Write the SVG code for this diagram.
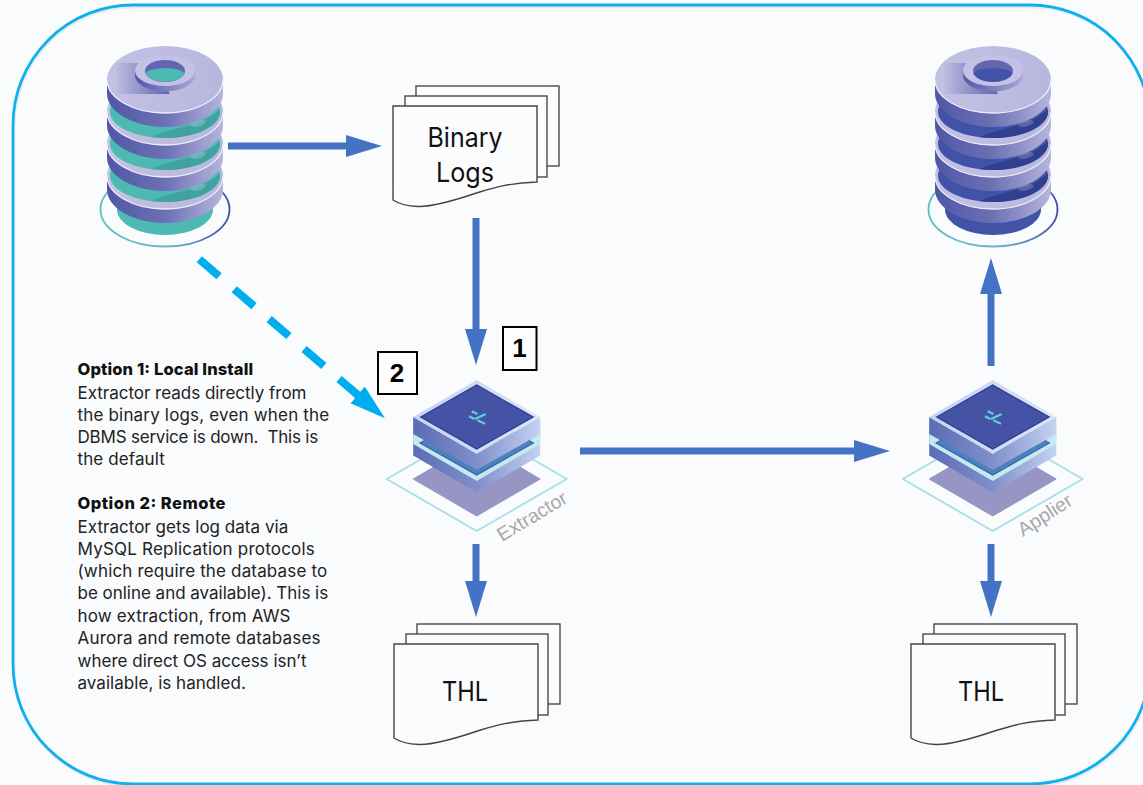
<svg xmlns="http://www.w3.org/2000/svg" width="1143" height="785" viewBox="0 0 1143 785">
<style>
.doc{fill:#fbfcfe;stroke:#4a4a4a;stroke-width:1.4}
.docfront{fill:#fbfcfe;stroke:#444;stroke-width:1.4}
.doctxt{font-family:"Inter","Noto Sans",sans-serif;font-size:27px;fill:#111;text-anchor:middle}
.note{font-family:"Inter","Noto Sans",sans-serif;font-size:17px;fill:#222}
.noteh{font-family:"Inter","Noto Sans",sans-serif;font-size:16.5px;font-weight:800;fill:#111}
.num{font-family:"Liberation Sans",Arial,sans-serif;font-size:26px;font-weight:700;fill:#000;text-anchor:middle}
.box{fill:#fdfdfe;stroke:#000;stroke-width:2}
.plat{font-family:"Liberation Sans",Arial,sans-serif;font-size:19.5px;fill:#a8a8a8}
.flow{stroke:#4472c4;stroke-width:7;fill:none}
.dash{stroke:#00aeef;stroke-width:8;fill:none;stroke-dasharray:26 20}
</style>
<defs>
<marker id="ah" markerUnits="userSpaceOnUse" markerWidth="38" markerHeight="24" refX="10" refY="11" orient="auto"><path d="M0,0 L36,11 L0,22 Z" fill="#4472c4"/></marker>
<marker id="ahd" markerUnits="userSpaceOnUse" markerWidth="38" markerHeight="24" refX="10" refY="11" orient="auto"><path d="M0,0 L36,11 L0,22 Z" fill="#00aeef"/></marker>
<linearGradient id="side"><stop offset="0" stop-color="#4f57a6"/><stop offset=".5" stop-color="#6e70b6"/><stop offset="1" stop-color="#b6b5dd"/></linearGradient>
<linearGradient id="topf"><stop offset="0" stop-color="#c3c2e4"/><stop offset="1" stop-color="#b7b6dd"/></linearGradient>
<linearGradient id="shade"><stop offset="0" stop-color="#bdbce0"/><stop offset="1" stop-color="#5f62ad"/></linearGradient>
<linearGradient id="ringside"><stop offset="0" stop-color="#5458a8"/><stop offset="1" stop-color="#a8a7d6"/></linearGradient>
<linearGradient id="ringstroke"><stop offset="0" stop-color="#58c0c0"/><stop offset=".55" stop-color="#6ab4cc"/><stop offset="1" stop-color="#3f4fa3"/></linearGradient>
<linearGradient id="blockside"><stop offset="0" stop-color="#5b6cb6"/><stop offset=".5" stop-color="#7f8fcb"/><stop offset="1" stop-color="#c4d3f0"/></linearGradient>
<linearGradient id="blocktop"><stop offset="0" stop-color="#c6d2f0"/><stop offset="1" stop-color="#dbe6f7"/></linearGradient>
<g id="disc">
<path d="M-58,0 V14 A58,33.5 0 0 0 58,14 V0 Z" fill="url(#side)"/>
<ellipse cx="0" cy="0" rx="58" ry="33.5" fill="url(#topf)"/>
<path d="M-58,0 A58,33.5 0 0 0 58,0" fill="none" stroke="#eeeef9" stroke-width="1.3"/>
</g>
<g id="seg">
<ellipse cx="0" cy="0" rx="55" ry="26.500" style="fill:var(--inner)"/>
<path d="M-14,25.600 C10,15 35,16 55,-2 A55,26.500 0 0 1 -14,25.600 Z" style="fill:var(--dark)"/>
<ellipse cx="33" cy="12" rx="8" ry="3" transform="rotate(-15 33 12)" fill="#fff" opacity=".2"/>
</g>
<g id="stack">
<ellipse cx="0" cy="130" rx="64.500" ry="37" fill="none" stroke="url(#ringstroke)" stroke-width="1.800"/>
<path d="M-48,125 V130 A48,25.500 0 0 0 48,130 V125 Z" style="fill:var(--inner)"/>
<use href="#disc" y="96"/>
<use href="#seg" y="96"/>
<use href="#disc" y="64"/>
<use href="#seg" y="64"/>
<use href="#disc" y="32"/>
<use href="#seg" y="32"/>
<use href="#disc"/>
<path d="M-49,-16.500 H-12 L5,14.500 H-49 Z" fill="url(#shade)"/>
<path d="M-30,-9 V-4 A30,16 0 0 0 30,-4 V-9 Z" fill="url(#ringside)"/>
<ellipse cx="0" cy="-9" rx="30" ry="15.500" fill="#c3c2e6"/>
<ellipse cx="0" cy="-8.500" rx="20" ry="11" fill="#6265b0"/>
<path d="M-19.500,-6 A20,10.500 0 0 0 19.500,-6 A20,7 0 0 0 -19.500,-6 Z" style="fill:var(--inner)"/>
</g>
<g id="platform">
<path d="M-90,62 L0,10 L90,62 L0,114 Z" fill="none" stroke="#a6dfe6" stroke-width="1.800" stroke-linejoin="round"/>
<path d="M-63.500,62 L0,25 L63.500,62 L0,99 Z" fill="#9695c4" stroke="#9695c4" stroke-width="1" stroke-linejoin="round"/>
<path d="M-63.500,10 L0,-27 L63.500,10 V38.500 L0,75.500 L-63.500,38.500 Z" fill="url(#blockside)"/>
<path d="M-63.500,5 H63.500 V27 L0,64 L-63.500,27 Z" fill="#c4e9ef"/>
<path d="M-56.700,26 L0,-6 L56.700,26 L0,58 Z" fill="#4b82be" stroke="#3f60ae" stroke-width="1.200"/>
<path d="M-63.500,0 L0,37 L63.500,0 V17 L0,53 L-63.500,17 Z" fill="url(#blockside)"/>
<path d="M-63.500,0 L0,-37 L63.500,0 L0,37 Z" fill="url(#blocktop)"/>
<path d="M-56,0 L0,-32 L56.500,0 L0,32 Z" fill="#4453a5" stroke="#2d3a92" stroke-width="1.200"/>
<path d="M-5,-5.700 L.7,-3 M-7.700,-.7 L-2.300,2 M-1.700,2 L9,-3 M.7,3.300 L8.300,6.700" fill="none" stroke="#63cdd8" stroke-width="2.200"/>
</g>
<g id="pages3">
<rect class="doc" x="23" y="-20" width="143" height="80"/>
<rect class="doc" x="12" y="-10" width="142" height="81"/>
<path class="docfront" d="M0,0 H144 V76 C115,77 100,82 85,86.500 C60,95 40,101 25,100.500 C15,100 6,98 0,94 Z"/>
</g>
</defs>
<rect width="1143" height="785" fill="#f9fbfd"/>
<g id="frame">
<rect x="14" y="7" width="1137" height="779" rx="120" fill="none" stroke="#000" stroke-opacity=".06" stroke-width="3"/>
<rect x="13" y="5" width="1137" height="779" rx="120" fill="none" stroke="#0fb0ee" stroke-width="2.800"/>
</g>
<g id="connectors">
<path class="flow" d="M228,146 H356" marker-end="url(#ah)"/>
<path class="flow" d="M476,218 V339" marker-end="url(#ah)"/>
<path class="flow" d="M476,544 V591" marker-end="url(#ah)"/>
<path class="flow" d="M580,451 H864" marker-end="url(#ah)"/>
<path class="flow" d="M991,366 V284" marker-end="url(#ah)"/>
<path class="flow" d="M991,544 V591" marker-end="url(#ah)"/>
<path class="dash" d="M199.300,259.300 L365.200,401.400" marker-end="url(#ahd)"/>
</g>
<g id="source-db" style="--inner:#4cb9b3;--dark:#41a39f"><use href="#stack" x="165" y="79.500"/></g>
<g id="target-db" style="--inner:#4252a6;--dark:#323f8e"><use href="#stack" x="993" y="79.500"/></g>
<g id="binary-logs"><use href="#pages3" x="393" y="106"/>
<text class="doctxt" x="465" y="147" textLength="75" lengthAdjust="spacingAndGlyphs">Binary</text>
<text class="doctxt" x="465" y="182" textLength="58" lengthAdjust="spacingAndGlyphs">Logs</text></g>
<g id="thl-1"><use href="#pages3" x="394" y="644"/>
<text class="doctxt" x="465" y="701" textLength="46" lengthAdjust="spacingAndGlyphs">THL</text></g>
<g id="thl-2"><use href="#pages3" x="911" y="644"/>
<text class="doctxt" x="981" y="701" textLength="46" lengthAdjust="spacingAndGlyphs">THL</text></g>
<g id="extractor"><use href="#platform" x="476.700" y="417"/>
<text class="plat" transform="translate(502 542) rotate(-31)">Extractor</text></g>
<g id="applier"><use href="#platform" x="992.700" y="417"/>
<text class="plat" transform="translate(1023 537) rotate(-33)">Applier</text></g>
<g id="label-1"><rect class="box" x="503" y="327" width="33.500" height="43"/><text class="num" x="519.500" y="357">1</text></g>
<g id="label-2"><rect class="box" x="378" y="352" width="39" height="42"/><text class="num" x="397" y="382">2</text></g>
<g id="notes">
<text class="noteh" x="77.500" y="375" textLength="175.700">Option 1: Local Install</text>
<text class="note" x="77.500" y="399" textLength="229">Extractor reads directly from</text>
<text class="note" x="77.500" y="421" textLength="251.700">the binary logs, even when the</text>
<text class="note" x="77.500" y="443" textLength="240.700" xml:space="preserve">DBMS service is down.  This is</text>
<text class="note" x="77.500" y="465" textLength="87.300">the default</text>
<text class="noteh" x="77.500" y="509" textLength="148">Option 2: Remote</text>
<text class="note" x="77.500" y="533" textLength="210.700">Extractor gets log data via</text>
<text class="note" x="77.500" y="555" textLength="237.300">MySQL Replication protocols</text>
<text class="note" x="77.500" y="577" textLength="249.700">(which require the database to</text>
<text class="note" x="77.500" y="599" textLength="250.700">be online and available). This is</text>
<text class="note" x="77.500" y="622" textLength="213">how extraction, from AWS</text>
<text class="note" x="77.500" y="644" textLength="243">Aurora and remote databases</text>
<text class="note" x="77.500" y="667" textLength="229">where direct OS access isn’t</text>
<text class="note" x="77.500" y="689" textLength="168.300">available, is handled.</text>
</g>
</svg>
